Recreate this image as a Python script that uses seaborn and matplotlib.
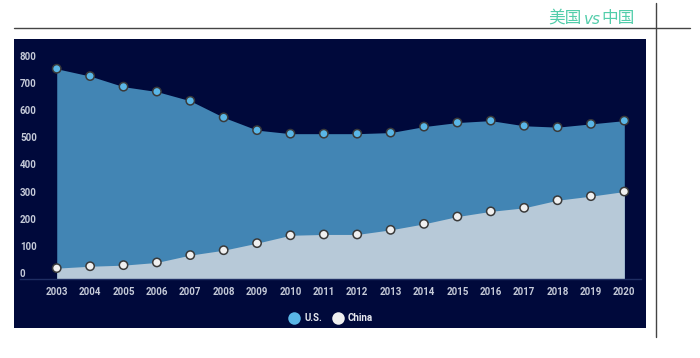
import numpy as np
import pandas as pd
import seaborn as sns
import matplotlib.pyplot as plt
from matplotlib.lines import Line2D
from matplotlib.patches import Rectangle

years = list(range(2003, 2021))
us = [774, 747, 708, 690, 656, 595, 548, 535, 535, 535, 539, 561, 576, 583, 564, 559, 571, 583]
china = [40, 47, 51, 61, 88, 106, 132, 161, 164, 164, 181, 203, 230, 249, 262, 290, 305, 322]
series_names = ['U.S.', 'China']
yticks = [0, 100, 200, 300, 400, 500, 600, 700, 800]

df = pd.DataFrame({'year': years * 2,
                   'value': us + china,
                   'country': ['U.S.'] * len(years) + ['China'] * len(years)})

sns.set_theme(style='white')
plt.rcParams['font.family'] = ['Roboto', 'DejaVu Sans']

navy = '#00093b'
fill_colors = {'U.S.': '#4285b4', 'China': '#b7c9d8'}
marker_colors = {'U.S.': '#5ab6e6', 'China': '#f0f0f0'}
label_color = '#c5cad8'

fig = plt.figure(figsize=(7, 3.58), dpi=100)
fig.patch.set_facecolor('white')

# dark panel behind chart
fig.add_artist(Rectangle((14 / 700, 1 - 328 / 358), (646 - 14) / 700, (328 - 39) / 358,
                         transform=fig.transFigure, facecolor=navy, edgecolor='none', zorder=0))

# header lines and title
fig.add_artist(Line2D([14 / 700, 690 / 700], [1 - 28 / 358] * 2, transform=fig.transFigure,
                      color='#444444', lw=1))
fig.add_artist(Line2D([656 / 700] * 2, [1 - 3 / 358, 1 - 337 / 358], transform=fig.transFigure,
                      color='#444444', lw=1))

ax = fig.add_axes([20 / 700, 1 - 279 / 358, 621 / 700, 229 / 358])
ax.set_facecolor('none')

for name in series_names:
    sub = df[df['country'] == name]
    ax.fill_between(sub['year'], 0, sub['value'], color=fill_colors[name], lw=0, zorder=1)

sns.scatterplot(data=df, x='year', y='value', hue='country', palette=marker_colors,
                hue_order=series_names, s=36, edgecolor='#3a3a3a', linewidth=1.1,
                legend=False, zorder=3, ax=ax)

ax.set_xlim(2001.9, 2020.5)
ax.set_ylim(0, 843)
ax.set_xticks(years)
ax.set_xticklabels([str(y) for y in years])
ax.set_yticks(yticks)
ax.set_yticklabels([str(t) for t in yticks])
ax.set_xlabel('')
ax.set_ylabel('')
for side in ['top', 'right', 'left']:
    ax.spines[side].set_visible(False)
ax.spines['bottom'].set_color('#1f2e63')
ax.spines['bottom'].set_linewidth(1)
ax.tick_params(axis='x', length=0, pad=6, labelsize=7, colors=label_color)
ax.tick_params(axis='y', length=0, pad=0, labelsize=7, colors=label_color)
for lab in ax.get_xticklabels() + ax.get_yticklabels():
    lab.set_fontweight('bold')
for lab in ax.get_yticklabels():
    lab.set_ha('left')
    lab.set_va('bottom')

# legend
handles = [Line2D([], [], marker='o', ls='none', markersize=9, markerfacecolor=marker_colors[n],
                  markeredgecolor='none', label=n) for n in series_names]
leg = fig.legend(handles=handles, loc='center', bbox_to_anchor=(331 / 700, 1 - 318 / 358),
                 ncol=2, frameon=False, fontsize=7, handletextpad=0.5, columnspacing=1.1,
                 handlelength=1.0)
for t in leg.get_texts():
    t.set_color('#e6e8ef')
    t.set_fontweight('bold')

# title: 美国 vs 中国
title_color = '#52cdaa'
cjk = ['Noto Sans CJK SC', 'DejaVu Sans']
t3 = fig.text(635 / 700, 1 - 23 / 358, '中国', ha='right', va='baseline', fontsize=12,
              color=title_color, family=cjk)
t2 = ax.annotate('vs', xy=(0, 0), xycoords=t3, xytext=(-0.5, 0), textcoords='offset points',
                 ha='right', va='bottom', fontsize=11, style='italic', color=title_color,
                 family=['DejaVu Sans'], annotation_clip=False)
ax.annotate('美国', xy=(0, 0), xycoords=t3, xytext=(-14.5, 0), textcoords='offset points',
            ha='right', va='bottom', fontsize=12, color=title_color, family=cjk,
            annotation_clip=False)

fig.savefig('out.png', dpi=100)
